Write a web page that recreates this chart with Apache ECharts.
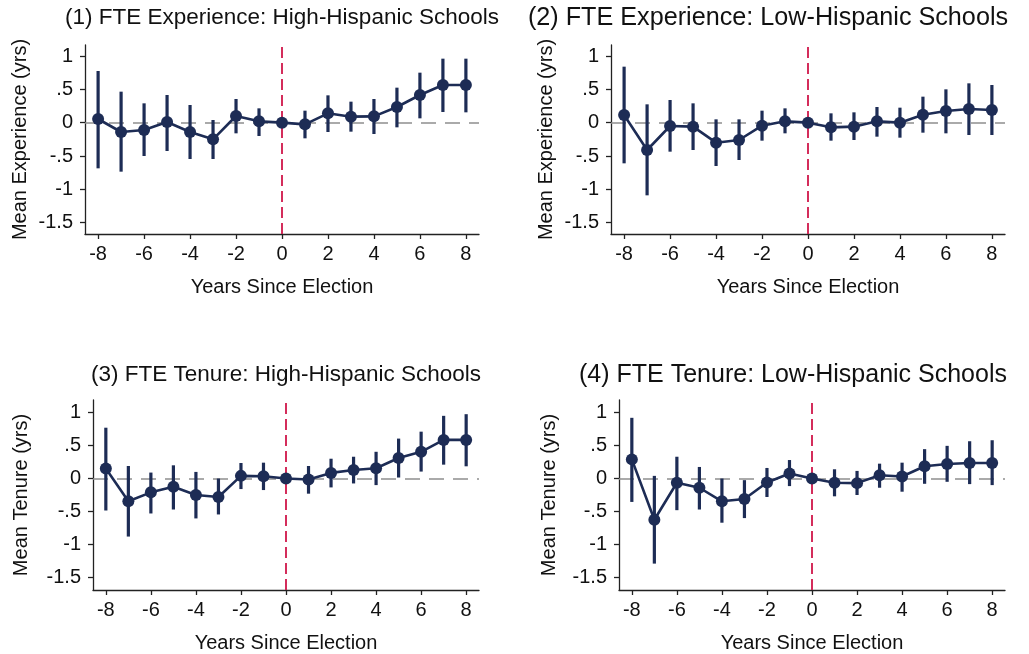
<!DOCTYPE html>
<html>
<head>
<meta charset="utf-8">
<script src="https://cdn.jsdelivr.net/npm/echarts@6/dist/echarts.min.js"></script>
<style>
html,body{margin:0;padding:0;background:#fff;}
#chart{width:1029px;height:654px;}
</style>
</head>
<body>
<div id="chart"></div>
<script>
// ---- Data ----
var years = [-8,-7,-6,-5,-4,-3,-2,-1,0,1,2,3,4,5,6,7,8];
var xTicks = [-8,-6,-4,-2,0,2,4,6,8];
var yTicks = [-1.5,-1,-0.5,0,0.5,1];

var titles = [
  "(1) FTE Experience: High-Hispanic Schools",
  "(2) FTE Experience: Low-Hispanic Schools",
  "(3) FTE Tenure: High-Hispanic Schools",
  "(4) FTE Tenure: Low-Hispanic Schools"
];
var yNames = ["Mean Experience (yrs)","Mean Experience (yrs)","Mean Tenure (yrs)","Mean Tenure (yrs)"];
var xName = "Years Since Election";

// Panel 1: Experience, High-Hispanic
var exHighMean = [0.055,-0.14,-0.11,0.01,-0.14,-0.25,0.10,0.02,0,-0.025,0.14,0.09,0.095,0.235,0.415,0.565,0.565];
var exHighLo   = [-0.685,-0.735,-0.50,-0.425,-0.545,-0.545,-0.16,-0.20,0,-0.235,-0.14,-0.135,-0.17,-0.07,0.065,0.16,0.155];
var exHighHi   = [0.775,0.465,0.29,0.415,0.265,0.04,0.355,0.215,0,0.18,0.41,0.315,0.355,0.525,0.75,0.96,0.96];

// Panel 2: Experience, Low-Hispanic
var exLowMean = [0.115,-0.41,-0.05,-0.06,-0.30,-0.26,-0.045,0.02,0,-0.07,-0.06,0.02,0.0,0.12,0.175,0.205,0.19];
var exLowLo   = [-0.61,-1.09,-0.435,-0.41,-0.65,-0.56,-0.27,-0.16,0,-0.27,-0.26,-0.21,-0.225,-0.15,-0.16,-0.185,-0.185];
var exLowHi   = [0.84,0.275,0.34,0.29,0.05,0.05,0.18,0.215,0,0.14,0.155,0.235,0.225,0.39,0.50,0.59,0.565];

// Panel 3: Tenure, High-Hispanic
var tnHighMean = [0.15,-0.345,-0.21,-0.125,-0.25,-0.28,0.04,0.035,0,-0.015,0.085,0.13,0.155,0.31,0.405,0.585,0.585];
var tnHighLo   = [-0.485,-0.88,-0.53,-0.47,-0.605,-0.545,-0.16,-0.175,0,-0.23,-0.135,-0.075,-0.10,0.015,0.105,0.21,0.185];
var tnHighHi   = [0.77,0.19,0.09,0.20,0.10,0.0,0.235,0.24,0,0.19,0.30,0.33,0.405,0.605,0.71,0.95,0.975];

// Panel 4: Tenure, Low-Hispanic
var tnLowMean = [0.29,-0.625,-0.065,-0.14,-0.345,-0.31,-0.06,0.075,0,-0.065,-0.07,0.05,0.03,0.185,0.22,0.235,0.235];
var tnLowLo   = [-0.355,-1.29,-0.48,-0.47,-0.67,-0.60,-0.28,-0.115,0,-0.27,-0.25,-0.14,-0.20,-0.08,-0.05,-0.085,-0.10];
var tnLowHi   = [0.92,0.04,0.33,0.175,0.0,-0.025,0.16,0.28,0,0.14,0.115,0.225,0.24,0.445,0.495,0.565,0.58];

var panels = [
  {mean: exHighMean, lo: exHighLo, hi: exHighHi},
  {mean: exLowMean, lo: exLowLo, hi: exLowHi},
  {mean: tnHighMean, lo: tnHighLo, hi: tnHighHi},
  {mean: tnLowMean, lo: tnLowLo, hi: tnLowHi}
];

// ---- Layout / style ----
var NAVY = "#1d2c55";
var RED = "#d0174a";
var GRAYD = "#8f8f8f";
var FONT = "'Liberation Sans', Arial, sans-serif";

var grids = [
  {left: 85, top: 45, width: 394, height: 189},
  {left: 611, top: 45, width: 394, height: 189},
  {left: 93, top: 400, width: 386, height: 190},
  {left: 619, top: 400, width: 386, height: 190}
];
var yRanges = [[-1.67,1.165],[-1.67,1.165],[-1.69,1.19],[-1.69,1.19]];
var yNameGaps = [55, 55, 62, 60];
var titlePos = [[282,18],[768,18],[286,375],[793,375]];
var titleSizes = [22.5, 25.2, 22.5, 25];

function fmtY(v){
  if (v === 0) return "0";
  var s = String(v);
  s = s.replace("0.", ".");
  return s;
}

var chart = echarts.init(document.getElementById('chart'), null, {renderer:'canvas'});

var option = {
  backgroundColor: '#fff',
  animation: false,
  grid: grids.map(function(g){ return Object.assign({containLabel:false}, g); }),
  xAxis: [], yAxis: [], series: [], graphic: []
};

panels.forEach(function(p, i){
  option.xAxis.push({
    type: 'value', gridIndex: i, min: -8.57, max: 8.57,
    name: xName, nameLocation: 'middle', nameGap: 43,
    nameTextStyle: {fontFamily: FONT, fontSize: 20, color: '#111'},
    axisLine: {show: true, onZero: false, lineStyle: {color: '#222', width: 1.3}},
    axisTick: {show: true, length: 5, customValues: xTicks, lineStyle: {color: '#222', width: 1.3}},
    axisLabel: {customValues: xTicks, fontFamily: FONT, fontSize: 20, color: '#111', margin: 10},
    splitLine: {show: false}
  });
  option.yAxis.push({
    type: 'value', gridIndex: i, min: yRanges[i][0], max: yRanges[i][1],
    name: yNames[i], nameLocation: 'middle', nameGap: yNameGaps[i],
    nameTextStyle: {fontFamily: FONT, fontSize: 20, color: '#111'},
    axisLine: {show: true, onZero: false, lineStyle: {color: '#222', width: 1.3}},
    axisTick: {show: true, length: 5, customValues: yTicks, lineStyle: {color: '#222', width: 1.3}},
    axisLabel: {customValues: yTicks, fontFamily: FONT, fontSize: 20, color: '#111', margin: 12, formatter: fmtY},
    splitLine: {show: false}
  });

  // reference lines
  option.series.push({
    type: 'line', xAxisIndex: i, yAxisIndex: i, data: [], z: 1, silent: true,
    markLine: {
      silent: true, symbol: ['none','none'], z: 1,
      label: {show: false},
      data: [
        {yAxis: 0, lineStyle: {color: GRAYD, type: [15, 9], width: 1.6}},
        {xAxis: 0, lineStyle: {color: RED, type: [11, 5], width: 1.8}}
      ]
    }
  });

  // error bars
  var ciData = years.map(function(x, k){ return [x, p.lo[k], p.hi[k]]; });
  option.series.push({
    type: 'custom', xAxisIndex: i, yAxisIndex: i, z: 3,
    data: ciData,
    renderItem: function(params, api){
      var x = api.value(0);
      var a = api.coord([x, api.value(1)]);
      var b = api.coord([x, api.value(2)]);
      return {type: 'line', shape: {x1: a[0], y1: a[1], x2: b[0], y2: b[1]},
              style: {stroke: NAVY, lineWidth: 3.2}};
    }
  });

  // mean line with markers
  option.series.push({
    type: 'line', xAxisIndex: i, yAxisIndex: i, z: 4,
    data: years.map(function(x, k){ return [x, p.mean[k]]; }),
    symbol: 'circle', symbolSize: 12, showSymbol: true,
    lineStyle: {color: NAVY, width: 2.6},
    itemStyle: {color: NAVY, borderWidth: 0}
  });

  option.graphic.push({
    type: 'text', x: titlePos[i][0], y: titlePos[i][1],
    style: {text: titles[i], fontFamily: FONT, fontSize: titleSizes[i], fill: '#111',
            textAlign: 'center', textVerticalAlign: 'middle'}
  });
});

chart.setOption(option);
</script>
</body>
</html>
